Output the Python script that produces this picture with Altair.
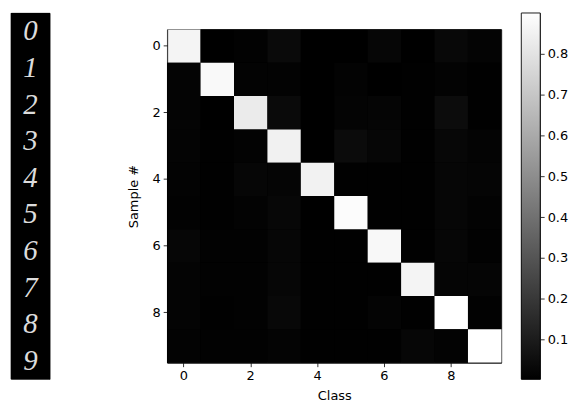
import altair as alt
import pandas as pd

classes = [0, 1, 2, 3, 4, 5, 6, 7, 8, 9]
digit_labels = ["0", "1", "2", "3", "4", "5", "6", "7", "8", "9"]

sample_0 = [0.860, 0.003, 0.010, 0.038, 0.003, 0.003, 0.024, 0.003, 0.031, 0.017]
sample_1 = [0.017, 0.880, 0.014, 0.014, 0.003, 0.014, 0.003, 0.007, 0.014, 0.007]
sample_2 = [0.017, 0.003, 0.830, 0.038, 0.003, 0.017, 0.021, 0.007, 0.045, 0.007]
sample_3 = [0.017, 0.007, 0.014, 0.850, 0.003, 0.042, 0.024, 0.007, 0.028, 0.017]
sample_4 = [0.014, 0.007, 0.024, 0.021, 0.855, 0.007, 0.007, 0.007, 0.024, 0.021]
sample_5 = [0.010, 0.007, 0.014, 0.028, 0.003, 0.890, 0.007, 0.007, 0.024, 0.014]
sample_6 = [0.024, 0.010, 0.010, 0.024, 0.007, 0.007, 0.875, 0.007, 0.024, 0.010]
sample_7 = [0.017, 0.010, 0.010, 0.024, 0.007, 0.007, 0.007, 0.860, 0.021, 0.021]
sample_8 = [0.017, 0.007, 0.010, 0.031, 0.007, 0.007, 0.017, 0.007, 0.900, 0.010]
sample_9 = [0.014, 0.010, 0.010, 0.017, 0.007, 0.007, 0.007, 0.024, 0.014, 0.900]

rows = [sample_0, sample_1, sample_2, sample_3, sample_4,
        sample_5, sample_6, sample_7, sample_8, sample_9]

records = []
for i, r in enumerate(rows):
    for j, v in enumerate(r):
        records.append({"sample": classes[i], "cls": classes[j], "p": v})
df = pd.DataFrame(records)

vmin = float(df["p"].min())
vmax = float(df["p"].max())
colorbar_ticks = [0.1, 0.2, 0.3, 0.4, 0.5, 0.6, 0.7, 0.8]

FONT = "DejaVu Sans"

# Left panel: digit strip
digits_df = pd.DataFrame({"idx": classes, "label": digit_labels})
digits = alt.Chart(digits_df).mark_text(
    color="#dcdcdc", fontSize=29, font="Liberation Serif", fontStyle="italic",
    baseline="middle", align="center"
).encode(
    y=alt.Y("idx:O", axis=None, scale=alt.Scale(paddingInner=0, paddingOuter=0)),
    x=alt.value(19.5),
    text="label:N",
)
digits_bg = alt.Chart(digits_df).mark_rect(color="black").encode(
    x=alt.value(0), x2=alt.value(39), y=alt.value(0), y2=alt.value(368)
)
digits_panel = alt.layer(digits_bg, digits).properties(width=39, height=368)

# invisible spacer
spacer = alt.Chart(pd.DataFrame({"a": [0]})).mark_point(opacity=0).encode(
    x=alt.value(0), y=alt.value(0)
).properties(width=78, height=368, view=alt.ViewBackground(strokeOpacity=0))

# Heatmap
heat_bg = alt.Chart(pd.DataFrame({"a": [0]})).mark_rect(color="black").encode(
    x=alt.value(0), x2=alt.value(336), y=alt.value(0), y2=alt.value(335)
)
heat_cells = alt.Chart(df).mark_rect().encode(
    x=alt.X("cls:O", title="Class",
            scale=alt.Scale(paddingInner=0, paddingOuter=0),
            axis=alt.Axis(values=[0, 2, 4, 6, 8], labelAngle=0)),
    y=alt.Y("sample:O", title="Sample #",
            scale=alt.Scale(paddingInner=0, paddingOuter=0),
            axis=alt.Axis(values=[0, 2, 4, 6, 8])),
    color=alt.Color("p:Q", legend=None,
                    scale=alt.Scale(domain=[vmin, vmax], range=["#000000", "#ffffff"],
                                    interpolate="rgb")),
)
heat = alt.layer(heat_bg, heat_cells).properties(width=336, height=335)

# Colorbar
cb = alt.Chart(pd.DataFrame({"lo": [vmin], "hi": [vmax]})).mark_rect(
    fill=alt.Gradient(gradient="linear",
                      stops=[alt.GradientStop(color="#000000", offset=0),
                             alt.GradientStop(color="#ffffff", offset=1)],
                      x1=0, x2=0, y1=1, y2=0),
    stroke="black", strokeWidth=0.8,
).encode(
    x=alt.value(0), x2=alt.value(19),
    y=alt.Y("lo:Q", title=None,
            scale=alt.Scale(domain=[vmin, vmax], nice=False, zero=False),
            axis=alt.Axis(orient="right", values=colorbar_ticks, format=".1f",
                          domain=False, grid=False)),
    y2="hi:Q",
).properties(width=19, height=368)

chart = alt.hconcat(digits_panel, spacer, heat, cb, spacing=20, bounds="flush",
                    center=True).properties(
    padding={"left": 2, "top": 1, "right": 5, "bottom": 5}
).configure_view(
    stroke="black", strokeWidth=0.8
).configure_axis(
    labelFont=FONT, titleFont=FONT, labelFontSize=13, titleFontSize=13,
    labelColor="black", titleColor="black", titleFontWeight="normal",
    tickColor="black", tickSize=4, tickWidth=0.8, labelPadding=3,
    domainColor="black", domainWidth=0.8, grid=False,
).configure_axisX(titlePadding=7).configure_axisY(titlePadding=12)

chart.save("out.html", embed_options={"renderer": "svg", "actions": False})
